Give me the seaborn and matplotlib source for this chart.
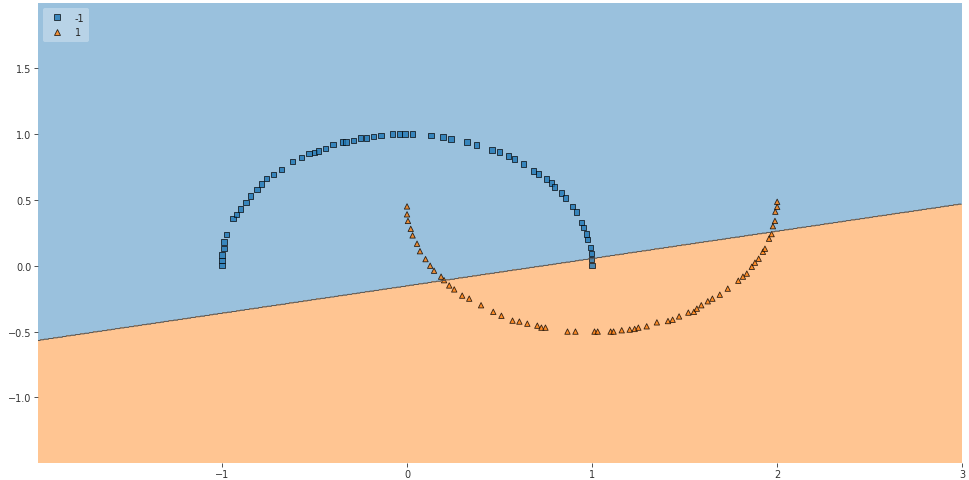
import numpy as np
import pandas as pd
import matplotlib
matplotlib.use("Agg")
import matplotlib.pyplot as plt
import seaborn as sns

# class -1 (upper moon)
x_neg = [-1.0, -1.0, -1.0, -0.99, -0.99, -0.975, -0.94, -0.92, -0.90, -0.87,
         -0.845, -0.81, -0.785, -0.76, -0.72, -0.68, -0.62, -0.57, -0.53, -0.50,
         -0.48, -0.44, -0.40, -0.35, -0.33, -0.29, -0.25, -0.22, -0.18, -0.14,
         -0.08, -0.04, -0.01, 0.03, 0.13, 0.195, 0.238, 0.325, 0.374, 0.46,
         0.498, 0.547, 0.58, 0.628, 0.683, 0.71, 0.753, 0.78, 0.796, 0.834,
         0.856, 0.894, 0.915, 0.943, 0.953, 0.97, 0.975, 0.991, 0.997, 0.997, 1.0]
y_neg = [0.0, 0.04, 0.08, 0.13, 0.18, 0.235, 0.36, 0.39, 0.43, 0.48,
         0.53, 0.58, 0.62, 0.66, 0.69, 0.73, 0.79, 0.82, 0.85, 0.86,
         0.87, 0.89, 0.92, 0.94, 0.94, 0.95, 0.97, 0.97, 0.98, 0.99,
         1.0, 1.0, 1.0, 1.0, 0.99, 0.977, 0.962, 0.939, 0.917, 0.879,
         0.864, 0.833, 0.811, 0.773, 0.72, 0.697, 0.659, 0.629, 0.598, 0.553,
         0.515, 0.447, 0.409, 0.326, 0.288, 0.242, 0.197, 0.136, 0.091, 0.045, 0.0]

# class 1 (lower moon)
x_pos = [0.0, 0.0, 0.005, 0.02, 0.03, 0.054, 0.07, 0.10, 0.125, 0.146,
         0.184, 0.20, 0.228, 0.255, 0.298, 0.336, 0.40, 0.466, 0.51, 0.57,
         0.607, 0.65, 0.704, 0.726, 0.748, 0.867, 0.91, 1.013, 1.03, 1.10,
         1.116, 1.16, 1.203, 1.23, 1.25, 1.295, 1.35, 1.41, 1.435, 1.47,
         1.52, 1.55, 1.566, 1.59, 1.625, 1.65, 1.69, 1.733, 1.79, 1.815,
         1.836, 1.863, 1.88, 1.90, 1.923, 1.934, 1.956, 1.97, 1.977, 1.988,
         1.99, 2.0, 2.0]
y_pos = [0.45, 0.39, 0.34, 0.28, 0.23, 0.167, 0.11, 0.05, 0.0, -0.038,
         -0.083, -0.11, -0.15, -0.18, -0.227, -0.25, -0.30, -0.35, -0.38, -0.417,
         -0.424, -0.44, -0.455, -0.47, -0.47, -0.50, -0.50, -0.50, -0.50, -0.50,
         -0.50, -0.49, -0.485, -0.48, -0.47, -0.46, -0.43, -0.42, -0.41, -0.385,
         -0.356, -0.35, -0.326, -0.30, -0.27, -0.25, -0.22, -0.174, -0.114, -0.083,
         -0.06, -0.008, 0.023, 0.053, 0.106, 0.129, 0.205, 0.24, 0.30, 0.34,
         0.41, 0.447, 0.485]

# linear classifier: decision boundary y = slope * x + intercept
slope = 0.2076
intercept = -0.153

x_ticks = [-1, 0, 1, 2, 3]
y_ticks = [-1.0, -0.5, 0.0, 0.5, 1.0, 1.5]

df = pd.DataFrame({
    "x1": x_neg + x_pos,
    "x2": y_neg + y_pos,
    "label": ["-1"] * len(x_neg) + ["1"] * len(x_pos),
})

sns.set_style("white")
fig = plt.figure(figsize=(9.7, 4.81), dpi=100)
ax = fig.add_axes([0.039, 0.036, 0.953, 0.956])

# decision regions
xx, yy = np.meshgrid(np.arange(-2.0, 3.0, 0.005), np.arange(-1.5, 2.0, 0.005))
zz = (yy - (slope * xx + intercept) < 0).astype(int)
ax.contourf(xx, yy, zz, levels=[-0.5, 0.5, 1.5], colors=["#1f77b4", "#ff7f0e"], alpha=0.45)
ax.contour(xx, yy, zz, levels=[0.5], colors="#555555", linewidths=0.7)

sns.scatterplot(data=df, x="x1", y="x2", hue="label", style="label",
                palette={"-1": "#1f77b4", "1": "#ff7f0e"},
                markers={"-1": "s", "1": "^"},
                s=15, edgecolor="black", linewidth=0.6, alpha=0.8, ax=ax)

ax.set_xlim(-1.995, 3.0)
ax.set_ylim(-1.495, 1.995)
ax.set_xticks(x_ticks)
ax.set_yticks(y_ticks)
ax.set_xticklabels([str(t) if t >= 0 else "\u2212" + str(-t) for t in x_ticks])
ax.set_xlabel("")
ax.set_ylabel("")
ax.tick_params(axis="both", labelsize=7, colors="#333333", length=3, width=0.6,
               pad=1.5, bottom=True, left=True)
for sp in ax.spines.values():
    sp.set_visible(False)

sns.move_legend(ax, "upper left", title=None, framealpha=0.3, fontsize=7,
                frameon=True, edgecolor="none", borderpad=0.5)

fig.savefig("out.png", dpi=100)
